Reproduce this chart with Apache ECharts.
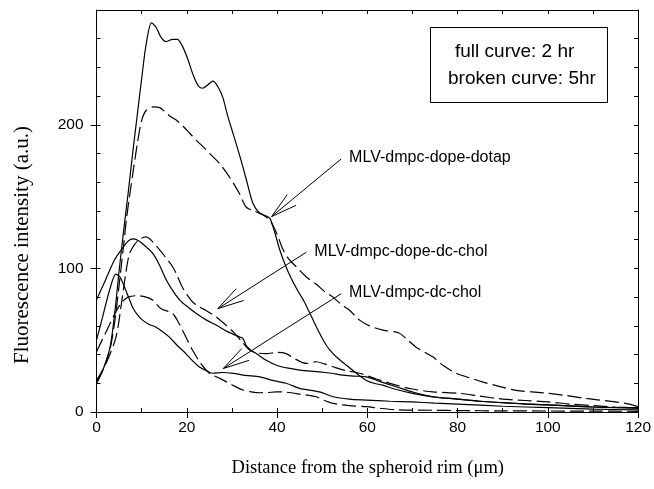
<!DOCTYPE html>
<html lang="en">
<head>
<meta charset="UTF-8">
<title>Fluorescence intensity vs distance</title>
<script src="https://cdn.jsdelivr.net/npm/echarts@6/dist/echarts.min.js"></script>
<style>
html, body { margin: 0; padding: 0; background: #fff; }
#chart { width: 654px; height: 489px; }
</style>
</head>
<body>
<div id="chart"></div>
<script>
// distance (um), intensity (a.u.)
var dotap2h = [[0,20],[1.5,30],[3,45],[4,68],[5,98],[6,126],[7,152],[8,180],[9,206],[10,232],[11,256],[12.2,271],[13.2,268],[14.3,261],[15.5,258],[16.8,259.5],[17.9,259.5],[19,255],[20.2,246],[21.5,234],[22.6,227],[23.5,225.5],[24.7,228],[25.8,230.5],[27,226],[28,219],[29,207],[30.3,193.5],[31.4,182],[32.5,170],[33.6,157],[34.7,145],[36,139],[37.2,137],[38.4,135],[39.5,125],[40.6,113],[41.7,103.5],[43,94],[44.5,85],[46,77],[47.7,66],[49.4,55],[50.8,47],[52.3,41],[54,36],[56,31],[58,26],[59.8,22],[61.5,20],[63.4,18.7],[66,16],[70,13],[74.5,10.6],[80,9],[85,7.5],[90,6.5],[95,5.5],[100,5],[105,4.3],[110,3.5],[115,3],[120,2.5]];
var dotap5h = [[0,20],[1.5,30],[3,44],[4,62],[5,88],[6,116],[6.7,136],[8,165],[9,186],[10,203],[11,210],[12.6,212.5],[14,212],[15.2,209],[16.3,206],[17.8,203],[19.2,199],[20.7,194],[22.2,189],[23.7,184.5],[25.1,180],[27.3,173],[28.4,168.5],[29.5,163.5],[30.6,158],[31.7,152],[33.2,142.6],[35,140],[37,137],[38.5,133],[40,124],[41.2,114],[42.5,107],[44.3,101],[46.5,94],[48.7,89],[50.5,84],[52.4,80],[54.2,75],[56,71],[58.3,64],[60.5,60],[63.5,57],[67,55],[69,50],[70.9,45],[74.5,38.4],[77,32],[79.7,27],[82.5,24],[85.5,21],[89,18],[93,15],[96.5,14],[100.3,13],[104,11.5],[107.7,9.7],[111,8.5],[115,7],[118,5.5],[120,3.7]];
var dopeDc2h = [[0,78],[2,92],[4,106],[5.4,112.5],[7,119],[8.1,120.6],[9.5,119],[11,115],[12.6,110],[14,102],[15.5,91.7],[17,84],[18.5,77.8],[20.3,73],[22.2,68.5],[24.4,64],[26.6,60.4],[29,56],[31.7,52.3],[32.5,51],[33.2,46],[34.2,43],[35.4,40.7],[37.6,36],[39.9,32.6],[42.5,30.5],[45,29.2],[49.4,28],[52,27],[54.6,25.7],[57,25],[59.8,24.5],[63,21],[66.4,17.6],[70,14],[74.5,10.6],[80,9],[85,7.5],[90,6.5],[95,5.7],[100,5],[110,3.5],[120,3]];
var dopeDc5h = [[0,22],[2,33],[4.3,52],[5.5,75],[6.5,97],[7.3,110],[8.5,117],[10,121],[11,122],[12,120],[13.2,116],[15,109],[16.9,101],[18,94],[19,87],[20.2,81],[21.3,76.6],[22.9,73],[24.2,70.8],[26.6,66],[28.5,61],[30.3,55.8],[32.2,49],[34,43],[35.8,41],[37.7,40.7],[40,41.5],[42,40.7],[44,37],[46.5,33.8],[48.7,35],[50.5,33.5],[52.4,31.5],[55,29],[58.3,27],[62,23],[66.4,18.7],[70,16],[74.5,14],[80.4,13],[85,11],[90,9],[95,8],[100,7],[105,5.5],[110,4.5],[115,3.5],[120,3]];
var dc2h = [[0,50],[1.5,68],[3,86],[4.3,96],[5.2,94],[6.2,87],[7.1,80],[8,73],[9,68],[10.2,64],[11.7,61],[13.2,59],[14.6,56],[16.1,52.3],[18,46],[19.8,40.7],[21.2,36],[22.7,31.5],[24.2,29],[25.7,27],[28,27.5],[30.3,26.9],[33,25.5],[36.2,24.5],[39,22],[42,20],[45,16.5],[49.4,14],[52.4,10.6],[56,9],[59.8,8.3],[65,7.5],[70,7],[75,6.2],[80,5.5],[90,4],[100,3],[110,2],[120,1.5]];
var dc5h = [[0,42],[2,55],[4,68],[5.5,76],[7,80],[9,81],[11,80],[12.4,78],[14.3,72],[16.9,68.5],[18.3,61.6],[19.8,52.3],[21.3,43],[23.1,33.8],[25,27],[26.9,24],[28.8,21],[30.6,18],[32.5,15.3],[34.3,14],[36.2,13.4],[38,13.6],[39.9,14],[42,13.8],[45,12.5],[48.7,10.6],[50.5,8],[52.4,6],[56,4.5],[59.8,3.7],[63,2.5],[67,1.5],[75,1.2],[80,1],[90,0.8],[100,0.7],[110,0.6],[120,0.5]];

var annotLabels = ['MLV-dmpc-dope-dotap', 'MLV-dmpc-dope-dc-chol', 'MLV-dmpc-dc-chol'];
var annotStart = [[54.2,176.2],[46.5,111.3],[54.2,82.4]];
var annotTip = [[38.8,136.1],[26.9,72.0],[28.1,30.3]];

var legendLines = ['full curve: 2 hr', 'broken curve: 5hr'];

var sans = '"Liberation Sans", Arial, sans-serif';
var serif = '"Liberation Serif", "Times New Roman", serif';

function curve(data, dashed) {
  return {
    type: 'line',
    data: data,
    showSymbol: false,
    smooth: 0.3,
    silent: true,
    lineStyle: { color: '#000', width: 1.2, type: dashed ? [14, 5] : 'solid' }
  };
}

function renderArrow(params, api) {
  var p0 = api.coord([api.value(0), api.value(1)]);
  var p1 = api.coord([api.value(2), api.value(3)]);
  var ang = Math.atan2(p0[1] - p1[1], p0[0] - p1[0]);
  var len = 27, spread = 0.26;
  var h1 = [p1[0] + len * Math.cos(ang - spread), p1[1] + len * Math.sin(ang - spread)];
  var h2 = [p1[0] + len * Math.cos(ang + spread), p1[1] + len * Math.sin(ang + spread)];
  return {
    type: 'group',
    children: [
      { type: 'line', shape: { x1: p0[0], y1: p0[1], x2: p1[0], y2: p1[1] }, style: { stroke: '#000', lineWidth: 1 } },
      { type: 'polyline', shape: { points: [h1, p1, h2] }, style: { stroke: '#000', fill: null, lineWidth: 1 } },
      { type: 'text', x: p0[0] + 8, y: p0[1] - 1, style: { text: annotLabels[params.dataIndex], fill: '#000', font: '16px ' + sans, align: 'left', verticalAlign: 'middle' } }
    ]
  };
}

var annotData = annotStart.map(function (s, i) { return [s[0], s[1], annotTip[i][0], annotTip[i][1]]; });

var chart = echarts.init(document.getElementById('chart'));
var tickStyle = { color: '#000', width: 1 };
var option = {
  animation: false,
  backgroundColor: '#fff',
  grid: { left: 96.5, right: 15, top: 10, bottom: 77 },
  xAxis: [
    { type: 'value', position: 'bottom', min: 0, max: 120, interval: 20,
      axisLine: { onZero: false, lineStyle: tickStyle },
      axisTick: { inside: false, length: 6, lineStyle: tickStyle },
      axisLabel: { color: '#000', fontSize: 15.5, fontFamily: sans, margin: 8 },
      splitLine: { show: false } },
    { type: 'value', position: 'bottom', min: 0, max: 120, interval: 10,
      axisLine: { show: false, onZero: false },
      axisTick: { inside: true, length: 4, lineStyle: tickStyle },
      axisLabel: { show: false }, splitLine: { show: false } },
    { type: 'value', position: 'top', min: 0, max: 120, interval: 10,
      axisLine: { onZero: false, lineStyle: tickStyle },
      axisTick: { inside: true, length: 4, lineStyle: tickStyle },
      axisLabel: { show: false }, splitLine: { show: false } }
  ],
  yAxis: [
    { type: 'value', position: 'left', min: 0, max: 280,
      axisLine: { onZero: false, lineStyle: tickStyle },
      axisTick: { inside: false, length: 6, lineStyle: tickStyle, customValues: [0, 100, 200] },
      axisLabel: { color: '#000', fontSize: 15.5, fontFamily: sans, margin: 13, customValues: [0, 100, 200] },
      splitLine: { show: false } },
    { type: 'value', position: 'left', min: 0, max: 280, interval: 20,
      axisLine: { show: false, onZero: false },
      axisTick: { inside: true, length: 4, lineStyle: tickStyle },
      axisLabel: { show: false }, splitLine: { show: false } },
    { type: 'value', position: 'right', min: 0, max: 280, interval: 20,
      axisLine: { onZero: false, lineStyle: tickStyle },
      axisTick: { inside: true, length: 4, lineStyle: tickStyle },
      axisLabel: { show: false }, splitLine: { show: false } }
  ],
  graphic: [
    { type: 'rect', left: 430, top: 27, shape: { width: 177, height: 75 }, style: { fill: '#fff', stroke: '#000', lineWidth: 1 } },
    { type: 'text', left: 455, top: 42, style: { text: legendLines[0], fill: '#000', font: '19px ' + sans } },
    { type: 'text', left: 448, top: 69, style: { text: legendLines[1], fill: '#000', font: '19px ' + sans } },
    { type: 'text', x: 367.75, y: 468, style: { text: 'Distance from the spheroid rim (\u03bcm)', fill: '#000', font: '18.5px ' + serif, align: 'center', verticalAlign: 'middle' } },
    { type: 'text', x: 22, y: 245, rotation: Math.PI / 2, style: { text: 'Fluorescence intensity (a.u.)', fill: '#000', font: '21px ' + serif, align: 'center', verticalAlign: 'middle' } }
  ],
  series: [
    curve(dotap2h, false),
    curve(dotap5h, true),
    curve(dopeDc2h, false),
    curve(dopeDc5h, true),
    curve(dc2h, false),
    curve(dc5h, true),
    { type: 'custom', data: annotData, renderItem: renderArrow, silent: true, z: 5 }
  ]
};
chart.setOption(option);
</script>
</body>
</html>
